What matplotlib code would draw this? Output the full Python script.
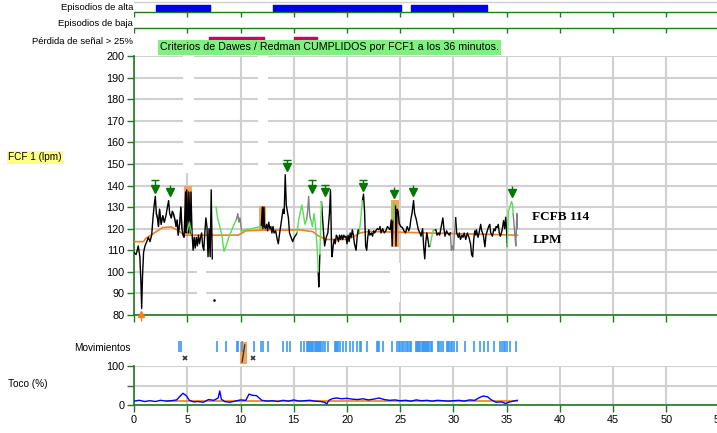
import numpy as np
import matplotlib
matplotlib.use("Agg")
import matplotlib.pyplot as plt

# ---------------- data ----------------
high_episodes = [(2.04, 7.1), (13.05, 25.1), (26.0, 33.1)]
low_episodes = []
signal_loss = [(7.04, 12.2), (15.0, 17.2)]

fhr_t = [0, 0.2, 0.4, 0.55, 0.65, 0.72, 0.8, 0.9, 1.03, 1.2, 1.35, 1.5, 1.66, 1.8, 1.9, 2.0, 2.1,
         2.2, 2.3, 2.4, 2.55, 2.7, 2.85, 3.0, 3.1, 3.25, 3.35, 3.5, 3.6, 3.7, 3.85, 3.95, 4.05,
         4.15, 4.3, 4.4, 4.5, 4.6, 4.7, 4.85, 4.9, 4.95, 5.1, 5.15, 5.3, 5.35, 5.45, 5.55, 5.65,
         5.75, 5.85, 5.95, 6.05, 6.15, 6.25, 6.35, 6.45, 6.55, 6.65, 6.75, 6.85, 6.95, 7.05, 7.15,
         7.25, 7.35, 7.4,
         11.95, 12.05, 12.1, 12.2, 12.25, 12.35, 12.45, 12.55, 12.65, 12.75, 12.85, 12.95, 13.05,
         13.15, 13.3, 13.45, 13.55, 13.65, 13.8, 13.9, 14.0, 14.1, 14.2, 14.3, 14.4, 14.5, 14.6,
         14.75, 14.9, 15.05, 15.2, 15.3, 15.31,
         17.3, 17.35, 17.45, 17.46,
         17.6, 17.7, 17.8, 17.9, 18.05, 18.2, 18.35, 18.45, 18.55, 18.6, 18.7, 18.8, 18.9, 19.0,
         19.1, 19.2, 19.3, 19.4, 19.5, 19.6, 19.7, 19.8, 19.9, 20.0, 20.1, 20.2, 20.3, 20.4, 20.5,
         20.6, 20.7, 20.85, 20.95, 21.05, 21.15, 21.16,
         21.45, 21.55, 21.65, 21.75, 21.85, 21.95, 22.05, 22.15, 22.3, 22.4, 22.5, 22.6, 22.7,
         22.85, 23.0, 23.1, 23.2, 23.35, 23.5, 23.65, 23.8, 23.95, 24.05, 24.15, 24.25, 24.3, 24.31,
         24.55, 24.6, 24.7, 24.8, 24.9, 25.05, 25.2, 25.35, 25.5, 25.65, 25.8, 25.9, 26.0, 26.1,
         26.25, 26.35, 26.5, 26.6, 26.7, 26.85, 26.95, 27.1, 27.2, 27.3, 27.4, 27.5, 27.6, 27.7,
         27.8, 27.81,
         28.2, 28.35, 28.45, 28.6, 28.7, 28.85, 29.0, 29.1, 29.2, 29.35, 29.45, 29.6, 29.7, 29.71,
         30.2, 30.3, 30.45, 30.55, 30.65, 30.8, 30.9, 31.0, 31.15, 31.3, 31.45, 31.6, 31.7, 31.8,
         31.9, 32.0, 32.1, 32.15, 32.3, 32.4, 32.55, 32.65, 32.8, 32.95, 33.05, 33.2, 33.3, 33.4,
         33.5, 33.65, 33.8, 33.9, 34.0, 34.1, 34.2, 34.3, 34.4, 34.55, 34.7, 34.8, 34.9, 35.0,
         35.05]
fhr_v = [109, 108, 112, 107, 95, 83, 98, 109, 112, 114, 116, 114, 117, 126, 131, 135, 127,
         125, 121, 129, 122, 126, 123, 126, 129, 133, 127, 125, 128, 127, 124, 121, 124,
         117, 123, 130, 120, 117, 116, 137, 118, 138, 118, 137, 118, 137, 118, 110, 116,
         111, 116, 112, 117, 113, 116, 118, 112, 110, 118, 125, 121, 107, 120, 107,
         138, 106, np.nan,
         121, 130, 120, 130, 121, 120, 122, 119, 123, 120, 121, 118, 121,
         118, 119, 115, 113, 117, 122, 125, 129, 127, 145, 131, 128, 125, 118,
         116, 114, 116, 117, 118, np.nan,
         100, 93, 108, np.nan,
         132.5, 125, 118, 112, 116, 118, 127, 138, 111, 107, 112, 115, 113, 117,
         116, 114, 117, 115, 117, 115, 117, 116, 116.5, 113, 117, 114, 118, 116, 119.5,
         117, 113, 110, 116, 119.5, 118, np.nan,
         133, 136, 128, 112, 110, 116, 119.5, 117, 118, 116.5, 119, 118, 119,
         120, 119.5, 121, 118, 120, 118, 119, 121, 120, 119.5, 124, 112, 124, np.nan,
         131, 112, 129, 128, 122.5, 121, 120.5, 119, 118, 121, 119, 120.5, 124.4, 127,
         133, 127, 124.4, 122, 119.5, 118, 116.5, 120, 111.6, 106, 114, 118, 115, 111.6,
         112, np.nan,
         119.5, 119.5, 117, 118, 117, 121, 125, 120, 116.5, 119, 118, 117, 118, np.nan,
         125, 118, 116, 118, 115, 117, 116, 118, 115, 118, 116, 113, 108, 107,
         115, 119, 117, 119.5, 116, 118, 122, 119, 117, 111.6, 117, 119.5, 121, 122,
         118, 116.5, 120, 119, 121, 120.5, 122, 118, 116.5, 119, 123.7, 120, 125.3, 118,
         112]

green_t = [np.nan, 5.0, 5.2, 5.4, np.nan,
           7.7, 7.85, 8.05, 8.25, 8.45, 8.65, 8.9, 9.15, 9.4, 9.6, np.nan,
           10.1, 10.5, 11.0, 11.5, 11.95, np.nan,
           15.3, 15.5, 15.75, 15.9, 16.05, 16.2, np.nan,
           16.6, 16.75, 16.9, 17.05, 17.2, 17.3, np.nan,
           17.45, 17.6, np.nan,
           21.15, 21.3, 21.45, np.nan,
           24.3, 24.4, 24.55, np.nan,
           27.8, 27.95, 28.1, 28.2, np.nan,
           35.05, 35.15, 35.3, 35.45, 35.55, 35.6]
green_v = [np.nan, 119, 123, 118, np.nan,
           130, 125, 121, 117, 109.5, 112, 116, 119, 122, 124, np.nan,
           119, 119.5, 120, 120.5, 121, np.nan,
           118, 125, 131, 127, 122, 124, np.nan,
           124, 121, 127, 121, 111, 100, np.nan,
           108, 132.5, np.nan,
           118, 125, 133, np.nan,
           124, 132, 131, np.nan,
           112, 116, 119.5, 119.5, np.nan,
           112, 128, 130, 132.6, 131, 127]

gray_t = [2.1, 2.2, 2.3, 2.4, 2.55, 2.7, 2.85, np.nan,
          3.5, 3.6, 3.7, 3.85, 3.95, 4.05, 4.15, 4.3, 4.4, 4.5, np.nan,
          9.6, 9.75, 9.85, 9.95, 10.1, np.nan,
          16.2, 16.3, 16.4, 16.5, 16.6, np.nan,
          29.7, 29.8, 29.9, 30.0, 30.1, 30.2, np.nan,
          35.6, 35.7, 35.8, 35.85, 35.95, 36.0]
gray_v = [127, 125, 121, 129, 122, 126, 123, np.nan,
          125, 128, 127, 124, 121, 124, 117, 123, 130, 120, np.nan,
          124, 127, 123, 125, 119, np.nan,
          124, 128, 135, 126, 124, np.nan,
          118, 110, 112, 110, 118, 125, np.nan,
          127, 121, 115, 112, 127, 120]

lone_t = [7.5]
lone_v = [87]

base_t = [0, 0.9, 1.1, 1.6, 2.2, 2.7, 3.5, 4.2, 4.7, 9.8, 10.5, 13.0, 14.2, 15.5, 16.8, 17.2,
          17.6, 18.0, 20.0, 20.6, 21.2, 22.0, 36.0]
base_v = [114, 114, 115.5, 117, 119, 120.5, 120.8, 119, 117, 117, 119, 119.5, 119.3, 119.5,
          118.6, 117, 116, 115, 115, 116.2, 118, 118.7, 117]

artifact_t0 = [4.72, 11.74, 24.13]
artifact_t1 = [5.45, 12.40, 24.88]
artifact_lo = [117.5, 119.0, 111.6]
artifact_hi = [140.0, 130.6, 133.3]

# signal-loss columns where the grid is blanked
gap_t0 = [4.6, 5.9, 11.6, 24.0]
gap_t1 = [5.6, 6.8, 12.6, 25.0]
gap_lo = [146, 86, 146, 86]
gap_hi = [202, 104, 202, 104]

accel_t = [1.97, 3.38, 14.4, 16.7, 17.9, 21.5, 24.4, 26.2, 35.5]
accel_tip = [137, 135.6, 147.2, 137, 135.6, 138, 134.7, 135.6, 135.2]
accel_cap = [142.5, None, 151.9, 142.5, 140.3, 142.6, None, None, None]

movements = [4.25, 4.45, 7.8, 8.6, 9.7, 9.8, 10.1, 11.3, 11.9, 12.15, 12.6, 14.0, 14.4, 14.65,
             15.7, 16.0, 16.2, 16.3, 16.4, 16.5, 16.6, 16.7, 16.85, 16.95, 17.05, 17.15, 17.25,
             17.35, 17.45, 17.6, 17.75, 17.9, 18.2, 18.9, 19.0, 19.1, 19.2, 19.3, 19.65, 19.95,
             20.3, 20.6, 20.9, 21.2, 21.35, 21.85, 22.8, 22.9, 23.0, 23.35, 24.25, 24.7, 24.85,
             25.0, 25.15, 25.3, 25.45, 25.6, 25.75, 25.9, 26.05, 26.5, 26.6, 26.7, 26.8, 26.9,
             27.0, 27.1, 27.2, 27.3, 27.4, 27.5, 27.6, 27.7, 27.85, 28.0, 28.5, 28.65, 28.8,
             29.0, 29.4, 29.5, 29.6, 29.75, 29.9, 30.05, 30.35, 31.1, 31.9, 32.5, 32.85, 33.25,
             33.8, 34.4, 34.55, 34.7, 34.85, 35.0, 35.3, 35.9]
movement_marks_x = [4.8, 11.2]
movement_artifact = (9.95, 10.6)

toco_t = [0, 0.5, 1, 1.5, 2, 2.5, 3, 3.5, 4, 4.3, 4.6, 4.9, 5.2, 5.6, 6, 6.5, 7, 7.5, 7.9, 8.05,
          8.2, 8.5, 9, 9.5, 10, 10.5, 10.8, 11.1, 11.5, 12, 12.5, 13, 13.5, 14, 14.5, 15, 15.5,
          16, 16.5, 17, 17.5, 17.9, 18.1, 18.3, 18.6, 19, 19.5, 20, 20.5, 21, 21.5, 22, 22.5,
          23, 23.5, 24, 24.5, 25, 25.5, 26, 26.5, 27, 27.5, 28, 28.5, 29, 29.5, 30, 30.5, 31,
          31.5, 32, 32.5, 32.8, 33.2, 33.5, 34, 34.5, 34.9, 35.3, 35.6, 36]
toco_v = [10, 12, 9, 11, 9, 12, 10, 11, 13, 22, 30, 24, 12, 8, 9, 7, 14, 12, 18, 36, 15, 9, 7,
          10, 13, 12, 28, 25, 24, 12, 10, 11, 9, 12, 10, 13, 10, 11, 12, 10, 9, 7, 3, 12, 16,
          18, 16, 17, 15, 14, 16, 13, 15, 18, 14, 12, 13, 11, 12, 10, 13, 11, 12, 10, 12, 11,
          10, 11, 12, 10, 13, 12, 20, 23, 21, 14, 7, 8, 4, 8, 10, 12]
toco_base_t = [3.0, 36.0]
toco_base_v = [10, 10]

x_ticks = list(range(0, 60, 5))
fhr_ticks = list(range(80, 210, 10))
toco_ticks = [0, 50, 100]
toco_ticklabels = ["0", "", "100"]

# ---------------- layout ----------------
W, H = 717, 433
PX = 10.65
X0 = 134
XR = 730
XMAX = (XR - X0) / PX
GREEN = "#1f7a1f"
GRID = "#d0d0d0"
FONT = "Liberation Sans"

plt.rcParams["font.family"] = [FONT, "DejaVu Sans"]

fig = plt.figure(figsize=(W / 100, H / 100), dpi=100)


def rect(x0, y0, x1, y1):
    return [x0 / W, 1 - y1 / H, (x1 - x0) / W, (y1 - y0) / H]


# ---- top episode panel ----
axt = fig.add_axes(rect(X0, 0, XR, 50))
axt.set_xlim(0, XMAX)
axt.set_ylim(50, 0)
axt.axis("off")
axt.axhline(1.5, color=GRID, lw=1)
for yl in (12, 28):
    axt.plot([0, XMAX], [yl, yl], color=GREEN, lw=1)
    axt.vlines(x_ticks, yl, yl + 5, color=GREEN, lw=1)
axt.broken_barh([(a, b - a) for a, b in high_episodes], (5, 6), color="#0000ee")
axt.broken_barh([(a, b - a) for a, b in low_episodes], (21, 6), color="#0000ee")
axt.broken_barh([(a, b - a) for a, b in signal_loss], (36.5, 5.5), color="#cc0066")

# ---- main FHR panel ----
ax = fig.add_axes(rect(X0, 56, XR, 315))
ax.set_xlim(0, XMAX)
ax.set_ylim(80, 200)
for s in ("top", "right"):
    ax.spines[s].set_visible(False)
for s in ("left", "bottom"):
    ax.spines[s].set_color(GREEN)
    ax.spines[s].set_linewidth(1.2)
ax.set_yticks(fhr_ticks)
ax.set_xticks(x_ticks)
ax.set_xticklabels([])
ax.tick_params(axis="both", colors=GREEN, length=5, width=1, labelcolor="black",
               labelsize=7.8, pad=2)
ax.grid(True, color=GRID, lw=1.5, zorder=0)
ax.set_axisbelow(True)

for t0, t1, lo, hi in zip(gap_t0, gap_t1, gap_lo, gap_hi):
    ax.fill_between([t0, t1], lo, hi, color="white", lw=0, zorder=1)
for t0, t1, lo, hi in zip(artifact_t0, artifact_t1, artifact_lo, artifact_hi):
    ax.fill_between([t0, t1], lo, hi, color="#f5a55a", lw=0, zorder=2)
ax.plot(base_t, base_v, color="#f08020", lw=1.2, zorder=3)
ax.plot(gray_t, gray_v, color="#808080", lw=1.0, zorder=4)
ax.plot(fhr_t, fhr_v, color="black", lw=1.0, zorder=5)
ax.plot(green_t, green_v, color="#55e055", lw=1.0, zorder=6)
ax.plot(lone_t, lone_v, marker="s", ms=0.8, color="black", ls="none", zorder=6)

for t, tip, cap in zip(accel_t, accel_tip, accel_cap):
    top = cap if cap is not None else tip + 4.5
    ax.vlines(t, tip + 1.5, top, color="#007700", lw=1, zorder=7)
    ax.plot([t], [tip + 1.2], marker="v", ms=5.5, color="#007700", zorder=7)
    if cap is not None:
        ax.plot([t], [cap], marker="_", ms=6, mew=1, color="#007700", zorder=7)

ax.plot([0.7], [80.5], marker="^", ms=5, color="#f08020", clip_on=False, zorder=8)
ax.vlines(0.7, 77, 80, color="#f08020", lw=1, clip_on=False, zorder=8)

ax.text(37.4, 125.5, "FCFB 114", family=["Liberation Serif"], weight="bold", fontsize=9.5,
        va="center", ha="left")
ax.text(37.4, 114.9, "LPM", family=["Liberation Serif"], weight="bold", fontsize=9.5,
        va="center", ha="left")

# ---- movements panel ----
axm = fig.add_axes(rect(X0, 336, XR, 366))
axm.set_xlim(0, XMAX)
axm.set_ylim(366, 336)
axm.axis("off")
axm.vlines(movements, 341, 352, color="#3a9af5", lw=1.2)
axm.fill_between(list(movement_artifact), 342, 364, color="#f5a55a", lw=0)
axm.plot([movement_artifact[0] + 0.2, movement_artifact[0] + 0.45], [362, 345],
         color="#333333", lw=1)
axm.plot(movement_marks_x, [357.5, 358], marker="x", ms=3.5, mew=1.2, ls="none",
         color="#333333")

# ---- toco panel ----
axc = fig.add_axes(rect(X0, 366, XR, 405))
axc.set_xlim(0, XMAX)
axc.set_ylim(0, 100)
for s in ("top", "right"):
    axc.spines[s].set_visible(False)
for s in ("left", "bottom"):
    axc.spines[s].set_color(GREEN)
    axc.spines[s].set_linewidth(1.2)
axc.set_xticks(x_ticks)
axc.set_yticks(toco_ticks)
axc.set_yticklabels(toco_ticklabels)
axc.tick_params(axis="both", colors=GREEN, length=5, width=1, labelcolor="black",
                labelsize=7.8, pad=2)
axc.grid(True, color=GRID, lw=1.5, zorder=0)
axc.set_axisbelow(True)
axc.plot(toco_base_t, toco_base_v, color="#ff8000", lw=1.2, zorder=3)
axc.plot(toco_t, toco_v, color="#0000ff", lw=1.0, zorder=4)

# ---- labels ----
lab = dict(fontsize=6.8, va="center")
fig.text(133 / W, 1 - 8 / H, "Episodios de alta", ha="right", **lab)
fig.text(133 / W, 1 - 24 / H, "Episodios de baja", ha="right", **lab)
fig.text(133 / W, 1 - 41 / H, "Pérdida de señal > 25%", ha="right", **lab)
fig.text(8 / W, 1 - 157 / H, "FCF 1 (lpm)", ha="left", fontsize=7.2, va="center",
         bbox=dict(boxstyle="square,pad=0.15", fc="#ffff80", ec="none"))
fig.text(74 / W, 1 - 348 / H, "Movimientos", ha="left", fontsize=7.2, va="center")
fig.text(8 / W, 1 - 384 / H, "Toco (%)", ha="left", fontsize=7.2, va="center")
fig.text(160 / W, 1 - 47.5 / H,
         "Criterios de Dawes / Redman CUMPLIDOS por FCF1 a los 36 minutos.",
         ha="left", va="center", fontsize=7.7, zorder=10,
         bbox=dict(boxstyle="square,pad=0.2", fc="#80f080", ec="none"))

fig.savefig("out.png", dpi=100)
